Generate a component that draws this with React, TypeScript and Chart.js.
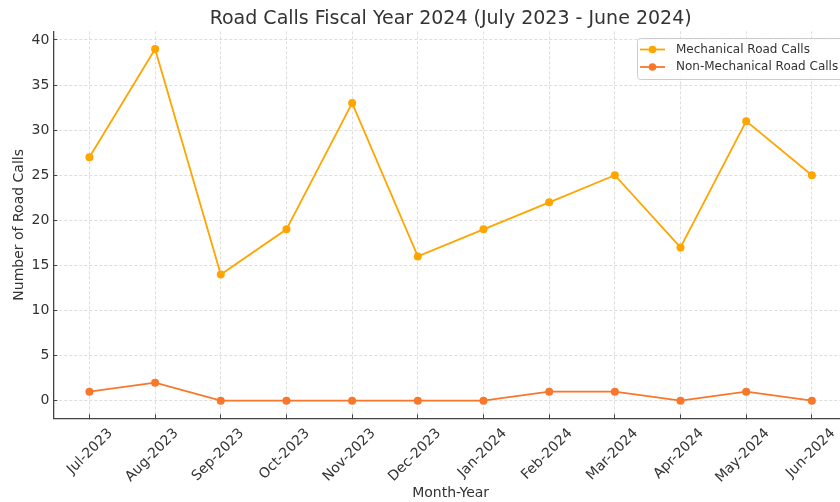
import React, { useEffect, useRef } from 'react';
import { Chart, registerables } from 'chart.js';

Chart.register(...registerables);

const months = [
  'Jul-2023', 'Aug-2023', 'Sep-2023', 'Oct-2023', 'Nov-2023', 'Dec-2023',
  'Jan-2024', 'Feb-2024', 'Mar-2024', 'Apr-2024', 'May-2024', 'Jun-2024',
];
const mechanical = [27, 39, 14, 19, 33, 16, 19, 22, 25, 17, 31, 25];
const nonMechanical = [1, 2, 0, 0, 0, 0, 0, 1, 1, 0, 1, 0];
const yTickValues = [0, 5, 10, 15, 20, 25, 30, 35, 40];
const chartTitle = 'Road Calls Fiscal Year 2024 (July 2023 - June 2024)';

const FONT = "'DejaVu Sans', 'Liberation Sans', sans-serif";
const TEXT = '#333333';
const AXIS = '#444444';
const GRID = '#d4d4d4';
const MECH_COLOR = '#FFA500';
const NONMECH_COLOR = '#F8772B';

const titlePlugin = {
  id: 'mplTitle',
  afterDraw(chart: any) {
    const ctx = chart.ctx;
    const area = chart.chartArea;
    ctx.save();
    ctx.fillStyle = TEXT;
    ctx.font = `19px ${FONT}`;
    ctx.textAlign = 'center';
    ctx.textBaseline = 'middle';
    ctx.fillText(chartTitle, (area.left + area.right) / 2, 19);
    ctx.restore();
  },
};

const legendPlugin = {
  id: 'mplLegend',
  afterDraw(chart: any) {
    const ctx = chart.ctx;
    const x0 = 637.5;
    const y0 = 38.5;
    const w = 230;
    const h = 41;
    ctx.save();
    ctx.beginPath();
    ctx.roundRect(x0, y0, w, h, 3);
    ctx.fillStyle = 'rgba(255,255,255,0.8)';
    ctx.fill();
    ctx.strokeStyle = '#cccccc';
    ctx.lineWidth = 1;
    ctx.stroke();
    chart.data.datasets.forEach((ds: any, i: number) => {
      const cy = 49.5 + i * 17.5;
      ctx.strokeStyle = ds.borderColor;
      ctx.lineWidth = 1.8;
      ctx.beginPath();
      ctx.moveTo(640, cy);
      ctx.lineTo(665, cy);
      ctx.stroke();
      ctx.fillStyle = ds.borderColor;
      ctx.beginPath();
      ctx.arc(652.5, cy, 3.8, 0, Math.PI * 2);
      ctx.fill();
      ctx.fillStyle = TEXT;
      ctx.font = `12px ${FONT}`;
      ctx.textBaseline = 'middle';
      ctx.textAlign = 'left';
      ctx.fillText(ds.label, 676, cy);
    });
    ctx.restore();
  },
};

export default function App() {
  const canvasRef = useRef<HTMLCanvasElement | null>(null);

  useEffect(() => {
    if (!canvasRef.current) return;
    const chart = new Chart(canvasRef.current, {
      type: 'line',
      data: {
        datasets: [
          {
            label: 'Mechanical Road Calls',
            data: mechanical.map((v, i) => ({ x: i, y: v })),
            borderColor: MECH_COLOR,
            backgroundColor: MECH_COLOR,
            pointBackgroundColor: MECH_COLOR,
            pointBorderWidth: 0,
            pointRadius: 4,
            borderWidth: 1.8,
            tension: 0,
          },
          {
            label: 'Non-Mechanical Road Calls',
            data: nonMechanical.map((v, i) => ({ x: i, y: v })),
            borderColor: NONMECH_COLOR,
            backgroundColor: NONMECH_COLOR,
            pointBackgroundColor: NONMECH_COLOR,
            pointBorderWidth: 0,
            pointRadius: 4,
            borderWidth: 1.8,
            tension: 0,
          },
        ],
      },
      options: {
        responsive: false,
        animation: false,
        layout: { padding: { left: 0, right: 12, top: 31.4, bottom: 0 } },
        plugins: {
          legend: { display: false },
          tooltip: { enabled: false },
          title: { display: false },
        },
        scales: {
          x: {
            type: 'linear',
            min: -0.55,
            max: 11.55,
            afterBuildTicks: (s: any) => {
              s.ticks = months.map((_, i) => ({ value: i }));
            },
            afterFit: (s: any) => {
              s.height = 83.7;
              s.paddingLeft = 0;
              s.paddingRight = 0;
            },
            ticks: {
              callback: (v: any) => months[v] ?? '',
              autoSkip: false,
              minRotation: 45,
              maxRotation: 45,
              labelOffset: 21,
              padding: 11,
              color: TEXT,
              font: { family: FONT, size: 14 },
            },
            grid: {
              color: GRID,
              lineWidth: 0.8,
              tickLength: -4,
              tickColor: AXIS,
              tickWidth: 1,
              tickBorderDash: [],
            },
            border: { display: true, color: AXIS, width: 1.3, dash: [3, 2] },
            title: {
              display: true,
              text: 'Month-Year',
              color: TEXT,
              font: { family: FONT, size: 14 },
              padding: { top: 0, bottom: 0 },
            },
          },
          y: {
            type: 'linear',
            min: -1.95,
            max: 40.95,
            afterBuildTicks: (s: any) => {
              s.ticks = yTickValues.map((v) => ({ value: v }));
            },
            afterFit: (s: any) => {
              s.width = 53.3;
              s.paddingTop = 0;
              s.paddingBottom = 0;
            },
            ticks: {
              callback: (v: any) => String(v),
              padding: 8,
              color: TEXT,
              font: { family: FONT, size: 14 },
            },
            grid: {
              color: GRID,
              lineWidth: 0.8,
              tickLength: -4,
              tickColor: AXIS,
              tickWidth: 1,
              tickBorderDash: [],
            },
            border: { display: true, color: AXIS, width: 1.3, dash: [3, 2] },
            title: {
              display: true,
              text: 'Number of Road Calls',
              color: TEXT,
              font: { family: FONT, size: 14 },
              padding: { top: 11, bottom: 0 },
            },
          },
        },
      },
      plugins: [titlePlugin, legendPlugin],
    } as any);
    return () => chart.destroy();
  }, []);

  return (
    <div
      style={{
        position: 'fixed',
        left: 0,
        top: 0,
        width: 840,
        height: 502,
        overflow: 'hidden',
        background: '#ffffff',
      }}
    >
      <canvas
        ref={canvasRef}
        width={860}
        height={502}
        style={{ display: 'block', width: 860, height: 502 }}
      />
    </div>
  );
}
